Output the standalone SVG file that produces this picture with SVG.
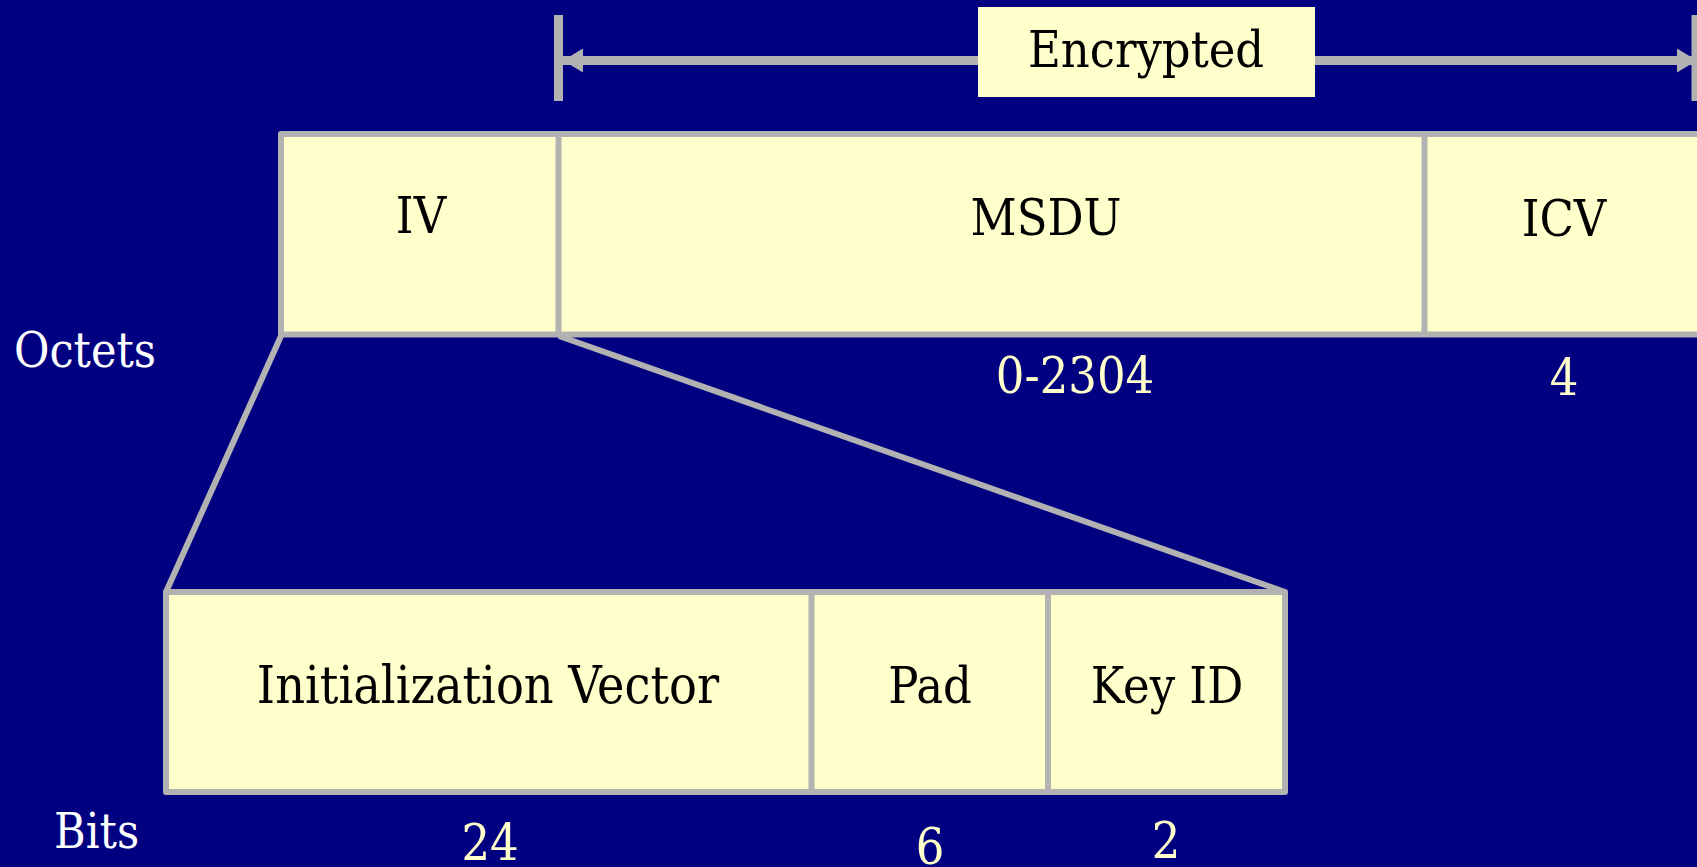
<svg xmlns="http://www.w3.org/2000/svg" width="1697" height="867" viewBox="0 0 1697 867">
  <style>
    .field { fill: #FFFFCC; stroke: #B2B2B2; stroke-width: 6; stroke-linejoin: round; }
    .div { stroke: #B2B2B2; stroke-width: 6; }
    .lbl { font-family: "DejaVu Serif Condensed", "DejaVu Serif", "Liberation Serif", serif; font-stretch: condensed; font-size: 50px; fill: #000000; text-anchor: middle; }
    .num { font-family: "DejaVu Serif Condensed", "DejaVu Serif", "Liberation Serif", serif; font-stretch: condensed; font-size: 50px; fill: #FFFFCC; text-anchor: middle; }
    .side { font-family: "DejaVu Serif Condensed", "DejaVu Serif", "Liberation Serif", serif; font-stretch: condensed; font-size: 48px; fill: #FFFFFF; }
    .conn { stroke: #B2B2B2; fill: none; }
  </style>
  <defs>
    <marker id="arrowhead" viewBox="0 0 20 24" refX="20" refY="12" markerWidth="20" markerHeight="24" markerUnits="userSpaceOnUse" orient="auto-start-reverse">
      <path d="M0,0 L20,12 L0,24 Z" fill="#B2B2B2"/>
    </marker>
  </defs>

  <rect width="1697" height="867" fill="#000080"/>

  <g id="connectors">
    <!-- encrypted span -->
    <line class="conn" x1="558.5" y1="15" x2="558.5" y2="101" stroke-width="9"/>
    <line class="conn" x1="1696" y1="15" x2="1696" y2="101" stroke-width="9"/>
    <line class="conn" x1="563" y1="60.5" x2="1697" y2="60.5" stroke-width="9" marker-start="url(#arrowhead)" marker-end="url(#arrowhead)"/>
    <!-- expansion lines from IV field to its bit breakdown -->
    <line class="conn" x1="281" y1="336" x2="166" y2="592" stroke-width="6"/>
    <line class="conn" x1="559" y1="336" x2="1285" y2="592" stroke-width="6"/>
  </g>

  <g id="encrypted-label">
    <rect x="978" y="7" width="337" height="90" fill="#FFFFCC"/>
    <text class="lbl" x="1146" y="67">Encrypted</text>
  </g>

  <!-- octet layout -->
  <g id="frame">
    <rect class="field" x="281" y="134" width="1440" height="200.5"/>
  </g>
  <g id="iv">
    <text class="lbl" x="421" y="233">IV</text>
  </g>
  <g id="msdu">
    <line class="div" x1="558.5" y1="134" x2="558.5" y2="334.5"/>
    <text class="lbl" x="1046" y="235">MSDU</text>
    <text class="num" x="1075" y="393">0-2304</text>
  </g>
  <g id="icv">
    <line class="div" x1="1424.5" y1="134" x2="1424.5" y2="334.5"/>
    <text class="lbl" x="1564" y="236">ICV</text>
    <text class="num" x="1564" y="395">4</text>
  </g>
  <g id="octets-label">
    <text class="side" x="14" y="367">Octets</text>
  </g>

  <!-- bit layout -->
  <g id="iv-bits">
    <rect class="field" x="166" y="592" width="1119" height="200"/>
  </g>
  <g id="init-vector">
    <text class="lbl" x="488" y="703" style="font-size:51.5px">Initialization Vector</text>
    <text class="num" x="490" y="860">24</text>
  </g>
  <g id="pad">
    <line class="div" x1="811.5" y1="592" x2="811.5" y2="792"/>
    <text class="lbl" x="930" y="703">Pad</text>
    <text class="num" x="930" y="864">6</text>
  </g>
  <g id="key-id">
    <line class="div" x1="1048" y1="592" x2="1048" y2="792"/>
    <text class="lbl" x="1167" y="703">Key ID</text>
    <text class="num" x="1166" y="858">2</text>
  </g>
  <g id="bits-label">
    <text class="side" x="54" y="848">Bits</text>
  </g>
</svg>
